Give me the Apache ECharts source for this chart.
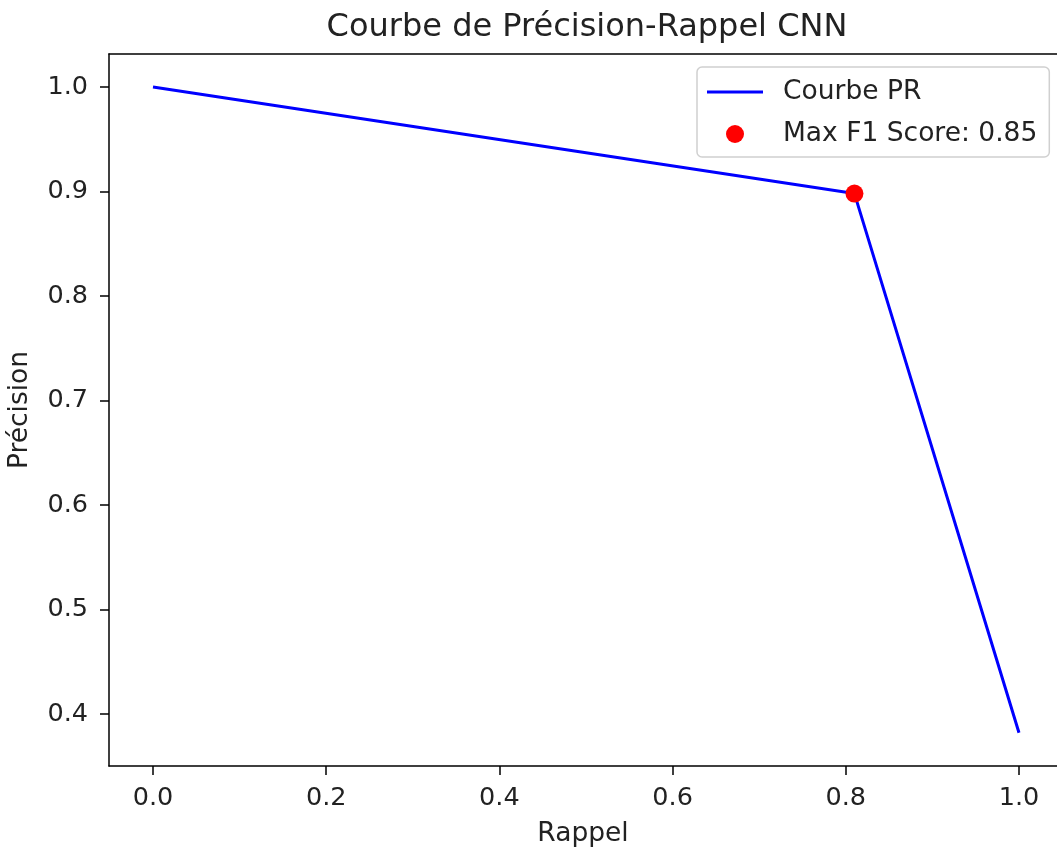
<!DOCTYPE html>
<html>
<head>
<meta charset="utf-8">
<script src="https://cdn.jsdelivr.net/npm/echarts@6/dist/echarts.min.js"></script>
<style>
  html, body { margin: 0; padding: 0; background: #fff; }
  #chart { width: 1057px; height: 850px; }
</style>
</head>
<body>
<div id="chart"></div>
<script>
// courbe PR (rappel, précision)
const recall = [0.0, 0.81, 1.0]
const precision = [1.0, 0.898, 0.382]
// point du meilleur F1
const bestPoint = [0.81, 0.898]
const bestLabel = 'Max F1 Score: 0.85'
const xTicks = [0.0, 0.2, 0.4, 0.6, 0.8, 1.0]
const yTicks = [0.4, 0.5, 0.6, 0.7, 0.8, 0.9, 1.0]

const font = 'DejaVu Sans'
const txt = '#222'
const fs = 26.5
const tickFs = 25.5

const chart = echarts.init(document.getElementById('chart'))

const option = {
  animation: false,
  backgroundColor: '#fff',
  title: {
    text: 'Courbe de Précision-Rappel CNN',
    left: 582,
    textAlign: 'center',
    top: 7,
    textStyle: { fontFamily: font, fontSize: 32, fontWeight: 'normal', color: txt }
  },
  legend: {
    orient: 'vertical',
    left: 697,
    top: 67,
    itemWidth: 56,
    itemHeight: 18,
    itemGap: 12,
    padding: [10, 12, 8, 10],
    backgroundColor: '#fff',
    borderColor: '#d0d0d0',
    borderWidth: 1.5,
    borderRadius: 5,
    textStyle: { fontFamily: font, fontSize: fs, lineHeight: 30, color: txt, padding: [0, 0, 0, 15] },
    data: [
      { name: 'Courbe PR', icon: 'path://M0,9 L56,9 L56,12 L0,12 Z' },
      { name: bestLabel, icon: 'circle' }
    ]
  },
  grid: {
    left: 109,
    top: 54,
    width: 948,
    height: 712,
    show: false,
    outerBoundsMode: 'none'
  },
  xAxis: [
    {
      type: 'value',
      min: -0.0508,
      max: 1.0439,
      name: 'Rappel',
      nameLocation: 'middle',
      nameGap: 55,
      nameTextStyle: { fontFamily: font, fontSize: fs, color: txt },
      axisLine: { show: true, onZero: false, lineStyle: { color: '#000', width: 1.5 } },
      axisTick: { show: true, length: 9, customValues: xTicks, lineStyle: { color: '#000', width: 1.5 } },
      axisLabel: {
        customValues: xTicks,
        margin: 19,
        fontFamily: font,
        fontSize: tickFs,
        color: txt,
        formatter: v => v.toFixed(1)
      },
      splitLine: { show: false }
    },
    {
      // cadre du haut
      type: 'value',
      position: 'top',
      min: -0.0508,
      max: 1.0439,
      axisLine: { show: true, onZero: false, lineStyle: { color: '#000', width: 1.5 } },
      axisTick: { show: false },
      axisLabel: { show: false },
      splitLine: { show: false }
    }
  ],
  yAxis: {
    type: 'value',
    min: 0.3502,
    max: 1.0316,
    name: 'Précision',
    nameLocation: 'middle',
    nameGap: 75,
    nameTextStyle: { fontFamily: font, fontSize: fs, color: txt },
    axisLine: { show: true, onZero: false, lineStyle: { color: '#000', width: 1.5 } },
    axisTick: { show: true, length: 9, customValues: yTicks, lineStyle: { color: '#000', width: 1.5 } },
    axisLabel: {
      customValues: yTicks,
      margin: 21,
      fontFamily: font,
      fontSize: tickFs,
      color: txt,
      formatter: v => v.toFixed(1)
    },
    splitLine: { show: false }
  },
  series: [
    {
      name: 'Courbe PR',
      type: 'line',
      data: recall.map((r, i) => [r, precision[i]]),
      symbol: 'none',
      lineStyle: { color: '#0000ff', width: 3 },
      itemStyle: { color: '#0000ff' },
      z: 2
    },
    {
      name: bestLabel,
      type: 'scatter',
      data: [bestPoint],
      symbol: 'circle',
      symbolSize: 18,
      itemStyle: { color: '#ff0000', opacity: 1 },
      z: 3
    }
  ]
}

chart.setOption(option)
</script>
</body>
</html>
